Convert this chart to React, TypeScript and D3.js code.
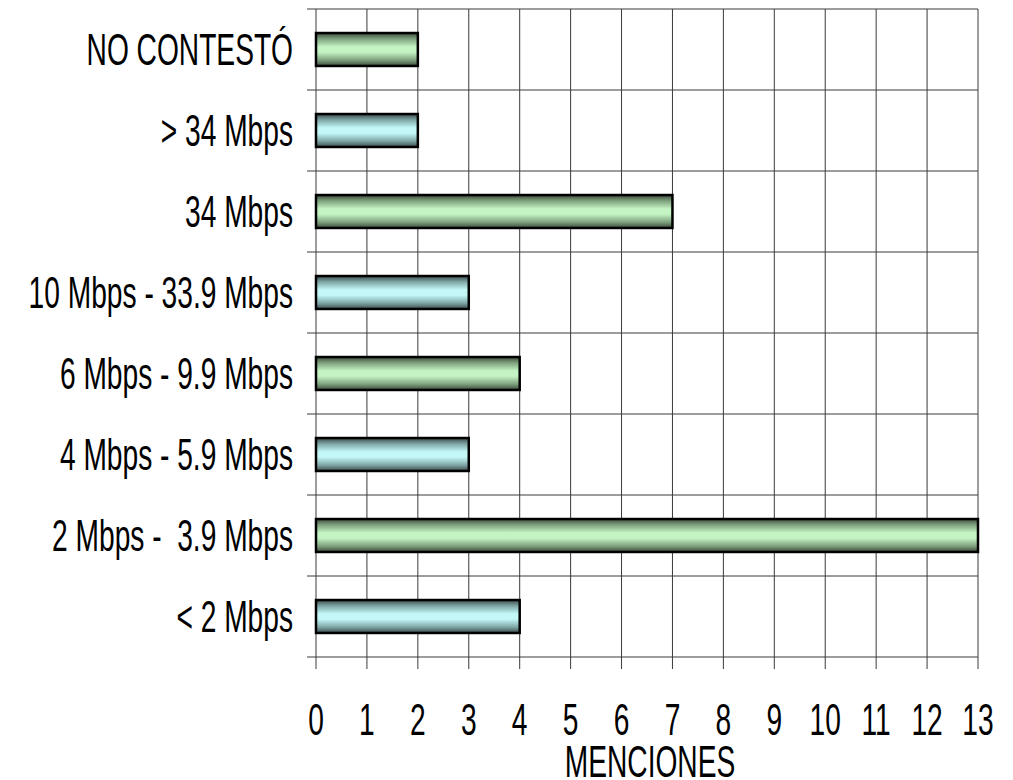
import React from "react";
import * as d3 from "d3";

const categories = [
  "NO CONTESTÓ",
  "> 34 Mbps",
  "34 Mbps",
  "10 Mbps - 33.9 Mbps",
  "6 Mbps - 9.9 Mbps",
  "4 Mbps - 5.9 Mbps",
  "2 Mbps -  3.9 Mbps",
  "< 2 Mbps",
];
const values = [2, 2, 7, 3, 4, 3, 13, 4];
const colorKeys = ["green", "blue", "green", "blue", "green", "blue", "green", "blue"];
const xTicks = [0, 1, 2, 3, 4, 5, 6, 7, 8, 9, 10, 11, 12, 13];
const xTitle = "MENCIONES";

const W = 1013;
const H = 780;
const left = 316;
const right = 978;
const top = 9;
const bottom = 657;
const FONT = "'Liberation Sans', Arial, sans-serif";
const FS = 44;
const SX = 0.64;

export default function App() {
  const x = d3.scaleLinear().domain([0, 13]).range([left, right]);
  const bandGrid = d3.scaleBand<string>().domain(categories).range([top, bottom]).padding(0);
  const y = d3
    .scaleBand<string>()
    .domain(categories)
    .range([top, bottom])
    .paddingInner(0.593)
    .paddingOuter(0.593 / 2);
  const step = bandGrid.step();
  const hLines = d3.range(categories.length + 1).map((i) => top + i * step);
  const grid = "#3a3a3a";

  return (
    <svg
      width={W}
      height={H}
      style={{ position: "absolute", left: 0, top: 0, background: "#fff" }}
      fontFamily={FONT}
    >
      <defs>
        <linearGradient id="g-green" x1="0" y1="0" x2="0" y2="1">
          <stop offset="0%" stopColor="#3c4a3c" />
          <stop offset="18%" stopColor="#7fa27f" />
          <stop offset="42%" stopColor="#c4f4c4" />
          <stop offset="58%" stopColor="#c4f4c4" />
          <stop offset="82%" stopColor="#7fa27f" />
          <stop offset="100%" stopColor="#3c4a3c" />
        </linearGradient>
        <linearGradient id="g-blue" x1="0" y1="0" x2="0" y2="1">
          <stop offset="0%" stopColor="#3c4a4a" />
          <stop offset="18%" stopColor="#7fa6a6" />
          <stop offset="42%" stopColor="#c4f8f8" />
          <stop offset="58%" stopColor="#c4f8f8" />
          <stop offset="82%" stopColor="#7fa6a6" />
          <stop offset="100%" stopColor="#3c4a4a" />
        </linearGradient>
      </defs>

      {/* horizontal gridlines */}
      {hLines.map((yy, i) => (
        <line key={"h" + i} x1={left - 9} x2={right} y1={yy} y2={yy} stroke={grid} strokeWidth={1} />
      ))}
      {/* vertical gridlines */}
      {xTicks.map((t) => (
        <line
          key={"v" + t}
          x1={x(t)}
          x2={x(t)}
          y1={top}
          y2={bottom + 12}
          stroke={grid}
          strokeWidth={1}
        />
      ))}

      {/* bars */}
      {categories.map((c, i) => (
        <rect
          key={c}
          x={x(0)}
          y={y(c)}
          width={x(values[i]) - x(0)}
          height={y.bandwidth()}
          fill={`url(#g-${colorKeys[i]})`}
          stroke="#000"
          strokeWidth={2.5}
        />
      ))}

      {/* category labels */}
      {categories.map((c) => (
        <text
          key={"l" + c}
          transform={`translate(${293},${(y(c) as number) + y.bandwidth() / 2 + 15.5}) scale(${SX},1)`}
          textAnchor="end"
          fontSize={FS}
          fill="#000"
          style={{ whiteSpace: "pre" }}
        >
          {c}
        </text>
      ))}

      {/* x tick labels */}
      {xTicks.map((t) => (
        <text
          key={"t" + t}
          transform={`translate(${x(t)},${735}) scale(${SX},1)`}
          textAnchor="middle"
          fontSize={FS}
          fill="#000"
        >
          {t}
        </text>
      ))}

      <text
        transform={`translate(${(left + right) / 2 + 3},${777}) scale(${SX},1)`}
        textAnchor="middle"
        fontSize={FS}
        fill="#000"
      >
        {xTitle}
      </text>
    </svg>
  );
}
